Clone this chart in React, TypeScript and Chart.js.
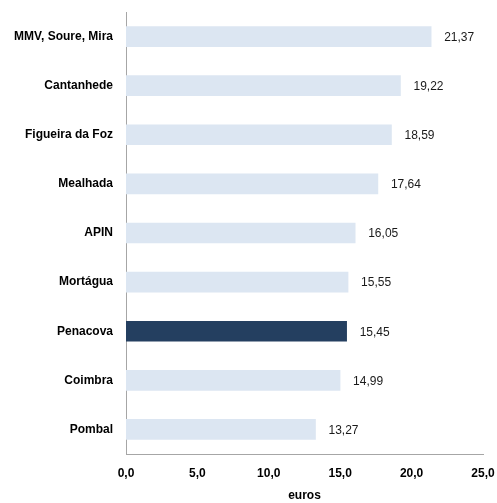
import React, { useEffect, useRef } from "react";
import { Chart, registerables } from "chart.js";

Chart.register(...registerables);

const categories = [
  "MMV, Soure, Mira",
  "Cantanhede",
  "Figueira da Foz",
  "Mealhada",
  "APIN",
  "Mortágua",
  "Penacova",
  "Coimbra",
  "Pombal",
];
const values = [21.37, 19.22, 18.59, 17.64, 16.05, 15.55, 15.45, 14.99, 13.27];
const highlight = "Penacova";
const xTicks = [0, 5, 10, 15, 20, 25];
const axisTitle = "euros";

const LIGHT = "#dce6f2";
const DARK = "#243f60";
const FONT = "'Liberation Sans', Arial, sans-serif";

const valueLabels = {
  id: "valueLabels",
  afterDatasetsDraw(chart: any) {
    const { ctx } = chart;
    const meta = chart.getDatasetMeta(0);
    ctx.save();
    ctx.font = `12px ${FONT}`;
    ctx.fillStyle = "#1a1a1a";
    ctx.textAlign = "left";
    ctx.textBaseline = "middle";
    meta.data.forEach((bar: any, i: number) => {
      const txt = values[i].toFixed(2).replace(".", ",");
      ctx.fillText(txt, bar.x + 13, bar.y + 1);
    });
    ctx.restore();
  },
};

export default function App() {
  const ref = useRef<HTMLCanvasElement>(null);
  useEffect(() => {
    if (!ref.current) return;
    const chart = new Chart(ref.current, {
      type: "bar",
      data: {
        labels: categories,
        datasets: [
          {
            data: values,
            backgroundColor: categories.map((c) => (c === highlight ? DARK : LIGHT)),
            borderWidth: 0,
            barThickness: 20,
          },
        ],
      },
      options: {
        indexAxis: "y",
        animation: false,
        responsive: false,
        maintainAspectRatio: false,
        layout: { padding: { top: 12, right: 14, left: 0, bottom: 0 } },
        plugins: {
          legend: { display: false },
          tooltip: { enabled: false },
        },
        scales: {
          x: {
            min: 0,
            max: 25,
            afterBuildTicks: (s: any) => {
              s.ticks = xTicks.map((v) => ({ value: v }));
            },
            afterFit: (s: any) => {
              s.height = 49;
              s.paddingLeft = 0;
              s.paddingRight = 0;
            },
            grid: { display: false, drawTicks: false },
            border: { display: true, color: "#a6a6a6", width: 1 },
            ticks: {
              padding: 12,
              color: "#000",
              font: { family: FONT, size: 12, weight: "bold" },
              callback: (v: any) => Number(v).toFixed(1).replace(".", ","),
            },
            title: {
              display: true,
              text: axisTitle,
              color: "#000",
              font: { family: FONT, size: 12, weight: "bold" },
              padding: { top: 0, bottom: 0 },
            },
          },
          y: {
            afterFit: (s: any) => {
              s.width = 126;
              s.paddingTop = 0;
              s.paddingBottom = 0;
            },
            grid: { display: false, drawTicks: false },
            border: { display: true, color: "#a6a6a6", width: 1 },
            ticks: {
              padding: 13,
              color: "#000",
              font: { family: FONT, size: 12, weight: "bold" },
            },
          },
        },
      },
      plugins: [valueLabels],
    });
    return () => chart.destroy();
  }, []);
  return (
    <div style={{ position: "fixed", left: 0, top: 0, width: 497, height: 503, background: "#fff" }}>
      <canvas ref={ref} width={497} height={503} style={{ width: 497, height: 503 }} />
    </div>
  );
}
